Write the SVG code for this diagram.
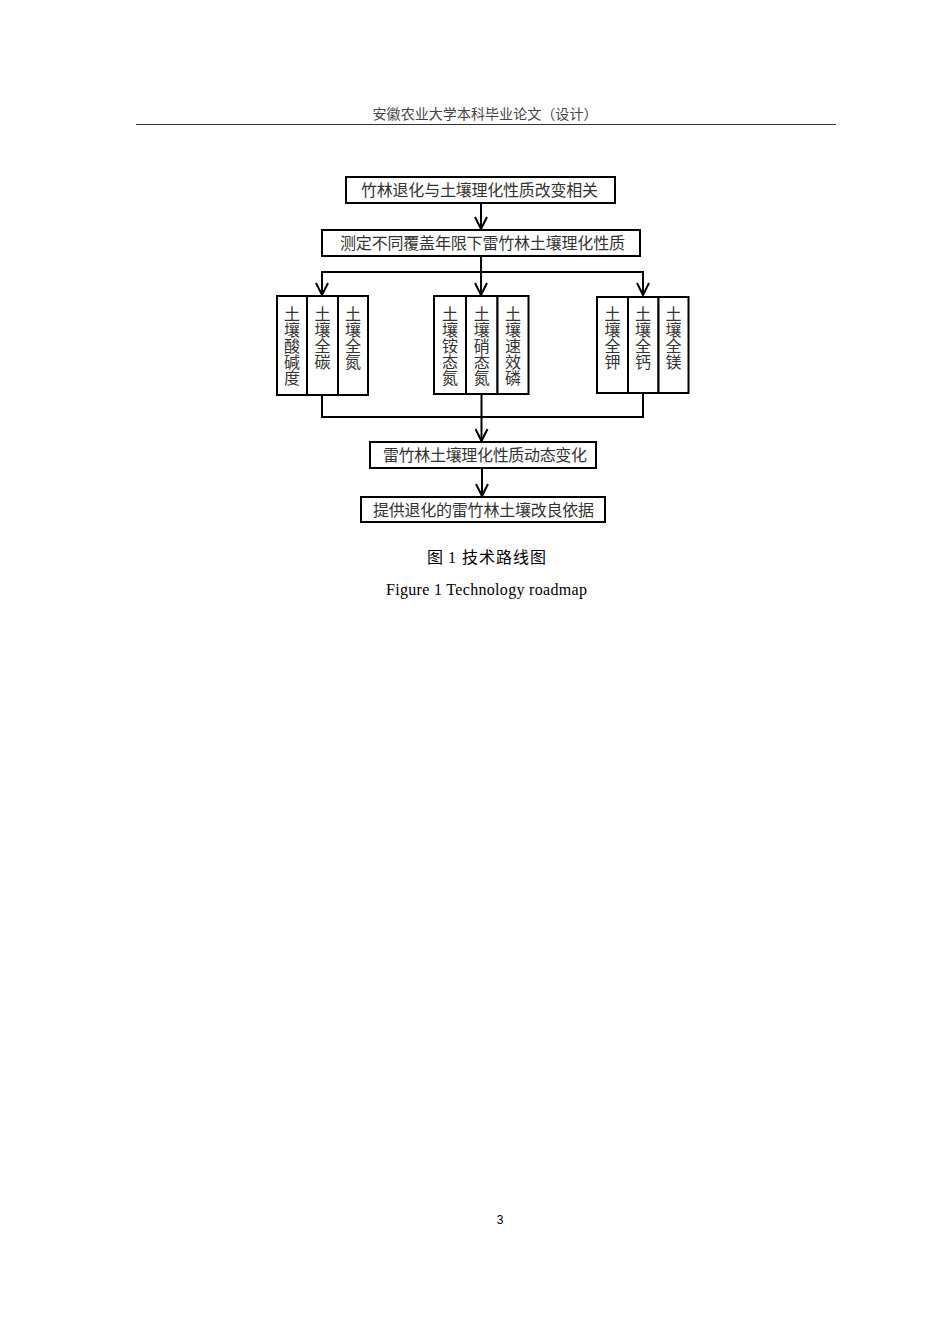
<svg xmlns="http://www.w3.org/2000/svg" width="950" height="1344" viewBox="0 0 950 1344">
<defs>
<style>
.bx{fill:#fff;stroke:#000;stroke-width:2}
.t{font-family:"Liberation Serif","Noto Sans CJK SC",serif;fill:#333;font-size:16px}
.c{font-family:"Liberation Serif","Noto Sans CJK SC",serif;fill:#333;font-size:16px;text-anchor:middle}
.ln{fill:none;stroke:#000;stroke-width:2}
</style>
<marker id="ar" viewBox="0 0 14 14" refX="13" refY="7" markerWidth="14" markerHeight="14" markerUnits="userSpaceOnUse" orient="auto">
<path d="M1,1 L13,7 L1,13" fill="none" stroke="#000" stroke-width="2"/>
</marker>
</defs>
<rect width="950" height="1344" fill="#fff"/>
<g id="header">
<text x="485" y="119" text-anchor="middle" font-family="'Noto Sans CJK SC',sans-serif" font-size="14" fill="#444" textLength="225" lengthAdjust="spacing">安徽农业大学本科毕业论文（设计）</text>
<line x1="136" y1="124.5" x2="836" y2="124.5" stroke="#333" stroke-width="1.2"/>
</g>
<g id="connectors">
<line class="ln" x1="481" y1="203" x2="481" y2="229" marker-end="url(#ar)"/>
<line class="ln" x1="481" y1="256" x2="481" y2="295" marker-end="url(#ar)"/>
<polyline class="ln" points="322,295 322,272 643,272 643,295"/>
<line class="ln" x1="322" y1="272" x2="322" y2="295" marker-end="url(#ar)"/>
<line class="ln" x1="643" y1="272" x2="643" y2="295" marker-end="url(#ar)"/>
<polyline class="ln" points="322,395 322,417 643,417 643,393"/>
<line class="ln" x1="481.5" y1="394" x2="481.5" y2="441" marker-end="url(#ar)"/>
<line class="ln" x1="482" y1="468" x2="482" y2="496" marker-end="url(#ar)"/>
</g>
<g id="n1">
<rect class="bx" x="346" y="177" width="269" height="26"/>
<text class="t" x="361" y="196" font-size="17" textLength="237" lengthAdjust="spacing">竹林退化与土壤理化性质改变相关</text>
</g>
<g id="n2">
<rect class="bx" x="322" y="230" width="318" height="26"/>
<text class="t" x="340" y="249" textLength="285" lengthAdjust="spacing">测定不同覆盖年限下雷竹林土壤理化性质</text>
</g>
<g id="g1">
<rect class="bx" x="277" y="296" width="30" height="99"/>
<rect class="bx" x="307" y="296" width="31" height="99"/>
<rect class="bx" x="338" y="296" width="30" height="99"/>
<text class="c" x="292" y="320"><tspan x="292">土</tspan><tspan x="292" dy="16">壤</tspan><tspan x="292" dy="16">酸</tspan><tspan x="292" dy="16">碱</tspan><tspan x="292" dy="16">度</tspan></text>
<text class="c" x="322.5" y="320"><tspan x="322.5">土</tspan><tspan x="322.5" dy="16">壤</tspan><tspan x="322.5" dy="16">全</tspan><tspan x="322.5" dy="16">碳</tspan></text>
<text class="c" x="353" y="320"><tspan x="353">土</tspan><tspan x="353" dy="16">壤</tspan><tspan x="353" dy="16">全</tspan><tspan x="353" dy="16">氮</tspan></text>
</g>
<g id="g2">
<rect class="bx" x="434" y="296" width="32" height="98"/>
<rect class="bx" x="466" y="296" width="31.5" height="98"/>
<rect class="bx" x="497.5" y="296" width="31" height="98"/>
<text class="c" x="450" y="320"><tspan x="450">土</tspan><tspan x="450" dy="16">壤</tspan><tspan x="450" dy="16">铵</tspan><tspan x="450" dy="16">态</tspan><tspan x="450" dy="16">氮</tspan></text>
<text class="c" x="481.7" y="320"><tspan x="481.7">土</tspan><tspan x="481.7" dy="16">壤</tspan><tspan x="481.7" dy="16">硝</tspan><tspan x="481.7" dy="16">态</tspan><tspan x="481.7" dy="16">氮</tspan></text>
<text class="c" x="513" y="320"><tspan x="513">土</tspan><tspan x="513" dy="16">壤</tspan><tspan x="513" dy="16">速</tspan><tspan x="513" dy="16">效</tspan><tspan x="513" dy="16">磷</tspan></text>
</g>
<g id="g3">
<rect class="bx" x="597" y="297" width="31" height="96"/>
<rect class="bx" x="628" y="297" width="30.5" height="96" stroke-width="2.5"/>
<rect class="bx" x="658.5" y="297" width="30" height="96"/>
<text class="c" x="612.5" y="320"><tspan x="612.5">土</tspan><tspan x="612.5" dy="16">壤</tspan><tspan x="612.5" dy="16">全</tspan><tspan x="612.5" dy="16">钾</tspan></text>
<text class="c" x="643" y="320"><tspan x="643">土</tspan><tspan x="643" dy="16">壤</tspan><tspan x="643" dy="16">全</tspan><tspan x="643" dy="16">钙</tspan></text>
<text class="c" x="673.5" y="320"><tspan x="673.5">土</tspan><tspan x="673.5" dy="16">壤</tspan><tspan x="673.5" dy="16">全</tspan><tspan x="673.5" dy="16">镁</tspan></text>
</g>
<g id="n3">
<rect class="bx" x="370" y="442" width="226" height="26"/>
<text class="t" x="383" y="461" textLength="204" lengthAdjust="spacing">雷竹林土壤理化性质动态变化</text>
</g>
<g id="n4">
<rect class="bx" x="361" y="497" width="244" height="25"/>
<text class="t" x="373" y="516" textLength="221" lengthAdjust="spacing">提供退化的雷竹林土壤改良依据</text>
</g>
<g id="caption">
<text x="427" y="563" font-family="'Noto Sans CJK SC',sans-serif" font-size="16" fill="#000">图 <tspan x="448" font-family="'Liberation Serif',serif">1</tspan></text>
<text x="462" y="563" font-family="'Noto Sans CJK SC',sans-serif" font-size="16" fill="#000" textLength="84" lengthAdjust="spacing">技术路线图</text>
<text x="386" y="595" font-family="'Liberation Serif',serif" font-size="16" fill="#000" textLength="201" lengthAdjust="spacing">Figure 1 Technology roadmap</text>
</g>
<g id="page">
<text x="500" y="1224" text-anchor="middle" font-family="'Liberation Sans',sans-serif" font-size="12" fill="#000">3</text>
</g>
</svg>
